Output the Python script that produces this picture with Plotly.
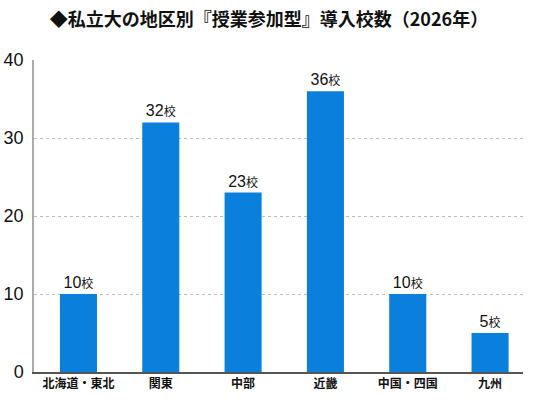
import plotly.graph_objects as go

categories = ["北海道・東北", "関東", "中部", "近畿", "中国・四国", "九州"]
values = [10, 32, 23, 36, 10, 5]
y_ticks = [0, 10, 20, 30, 40]

xs = list(range(len(categories)))
labels = [f"{v}<span style='font-size:12px;font-family:Noto Sans CJK JP'>校</span>" for v in values]

fig = go.Figure(go.Bar(
    x=xs, y=values, width=0.45,
    marker=dict(color="#0a7fdc", line=dict(width=0)),
    text=labels, textposition="outside", cliponaxis=False,
    textfont=dict(size=16, color="#111", family="Liberation Sans, Noto Sans CJK JP"),
))

fig.update_layout(
    width=538, height=406,
    margin=dict(l=34, r=15, t=60, b=34),
    paper_bgcolor="white", plot_bgcolor="white",
    showlegend=False,
    title=dict(text="◆私立大の地区別『授業参加型』導入校数（2026年）", x=0.5, xanchor="center",
               y=0.952, yanchor="middle",
               font=dict(size=18, color="#111", family="Noto Sans CJK JP", weight="bold")),
    xaxis=dict(range=[-0.54, 5.40], tickvals=xs, ticktext=categories, automargin=False,
               showgrid=False, showline=True, linecolor="#555", linewidth=1.5,
               ticks="", tickfont=dict(size=12, color="#111", family="Noto Sans CJK JP", weight="bold"),
               zeroline=False, fixedrange=True),
    yaxis=dict(range=[0, 40], tickvals=y_ticks, showgrid=True, gridcolor="#bbb", griddash="dot",
               gridwidth=1, showline=True, linecolor="#aaa", linewidth=1.5, ticks="", automargin=False,
               tickfont=dict(size=18, color="#111", family="Liberation Sans, sans-serif"),
               zeroline=False, ticklabelstandoff=5),
    bargap=0.5,
)

fig.write_html("out.html")
